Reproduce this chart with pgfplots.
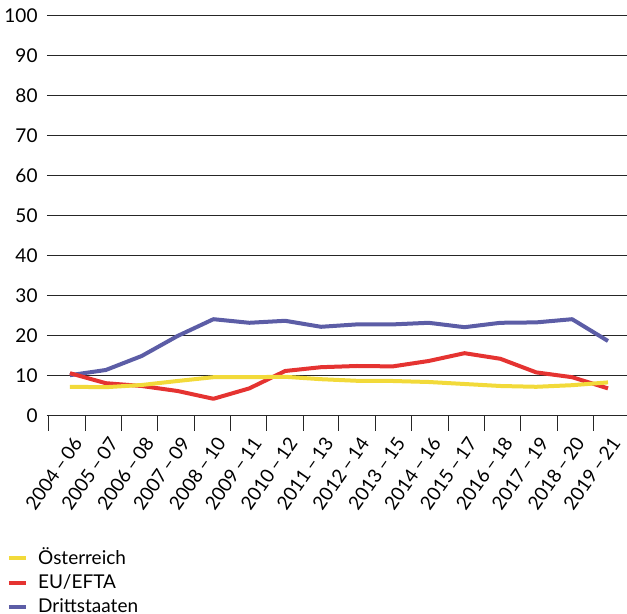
\documentclass[border=0pt]{standalone}
\usepackage{fontspec}
\setmainfont{Lato}
\usepackage{pgfplots}
\usepackage{pgfplotstable}
\pgfplotsset{compat=1.18}

\definecolor{cAT}{HTML}{F2DA3A}
\definecolor{cEU}{HTML}{E53331}
\definecolor{cDR}{HTML}{5C5DA6}

% Anteile in Prozent, je Dreijahreszeitraum
\pgfplotstableread{
x  at    eu     dr
0  7.3   10.7   10.2
1  7.2   8.2    11.5
2  7.75  7.5    15.0
3  8.75  6.25   20.0
4  9.7   4.3    24.2
5  9.7   6.9    23.3
6  9.8   11.25  23.8
7  9.2   12.2   22.3
8  8.8   12.5   22.9
9  8.75  12.4   22.9
10 8.5   13.75  23.3
11 8.0   15.7   22.2
12 7.5   14.3   23.3
13 7.3   10.9   23.4
14 7.7   9.7    24.2
15 8.4   6.9    18.75
}\datatable

\begin{document}
\begin{tikzpicture}
\begin{axis}[
    name=ax,
    width=290pt, height=200pt,
    scale only axis,
    xmin=-0.64, xmax=15.53,
    ymin=0, ymax=100,
    axis x line*=bottom,
    axis y line*=left,
    y axis line style={draw=none},
    x axis line style={black!85, line width=0.5pt},
    ytick={0,10,...,100},
    ymajorgrids=true,
    grid style={black!85, line width=0.5pt},
    xtick={0,...,15},
    xticklabels={2004\,–\,06,2005\,–\,07,2006\,–\,08,2007\,–\,09,2008\,–\,10,2009\,–\,11,2010\,–\,12,2011\,–\,13,2012\,–\,14,2013\,–\,15,2014\,–\,16,2015\,–\,17,2016\,–\,18,2017\,–\,19,2018\,–\,20,2019\,–\,21},
    minor xtick={-0.6,0.42,1.43,2.45,3.46,4.47,5.49,6.5,7.5,8.52,9.53,10.54,11.55,12.57,13.58,14.6},
    major tick length=0pt,
    minor tick length=7.5pt,
    tick align=outside,
    tick style={black!85, line width=0.5pt},
    ytick style={draw=none},
    tick label style={font=\fontsize{9.5}{11.5}\selectfont},
    /pgf/number format/assume math mode=true,
    yticklabel style={xshift=-1.2pt},
    xticklabel style={xshift=4pt, yshift=-11.5pt, rotate=55, anchor=east, inner sep=0pt},
    legend style={at={(-0.07,-0.322)}, anchor=north west, draw=none, fill=none,
        font=\fontsize{9.5}{11.5}\selectfont, inner sep=0pt, row sep=1.2pt,
        nodes={inner sep=1.2pt},
        /tikz/every odd column/.append style={column sep=4pt}},
    legend cell align=left,
    legend image code/.code={\draw[#1] (0pt,0pt) -- (8.5pt,0pt);},
    reverse legend,
]
\addplot[cDR, line width=2pt, line join=round] table[x=x, y=dr] {\datatable};
\addlegendentry{Drittstaaten}
\addplot[cEU, line width=2pt, line join=round] table[x=x, y=eu] {\datatable};
\addlegendentry{EU/EFTA}
\addplot[cAT, line width=2pt, line join=round] table[x=x, y=at] {\datatable};
\addlegendentry{Österreich}
\end{axis}
\pgfresetboundingbox
\path (ax.south west) ++(-23.5pt,-99pt) rectangle ([yshift=8pt]ax.north east);
\end{tikzpicture}
\end{document}
